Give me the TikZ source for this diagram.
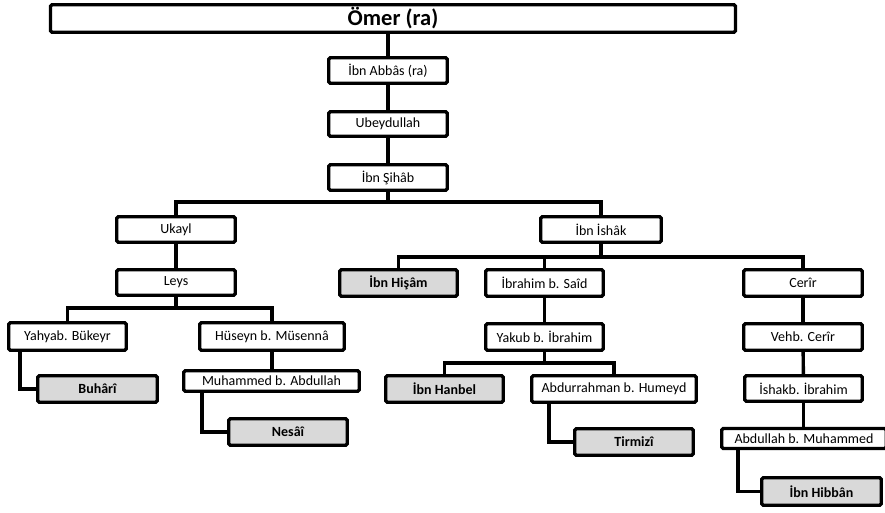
\documentclass[tikz,border=0pt]{standalone}
\usepackage{fontspec}
\setmainfont{Carlito}
\definecolor{leafgray}{HTML}{D9D9D9}
\begin{document}
\begin{tikzpicture}[x=1pt,y=-1pt,
  box/.style={draw, line width=3.4pt, rounded corners=1.5pt, inner sep=0pt, fill=white,
    font=\fontsize{14}{16}\selectfont},
  leaf/.style={box, fill=leafgray, font=\fontsize{14}{16}\selectfont\bfseries},
  link/.style={line width=3.4pt, line join=miter}]
\useasboundingbox (0,0) rectangle (885,512);

% nodes
\node[box, minimum width=685pt, minimum height=27.5pt, font=\fontsize{22.5}{24}\selectfont\bfseries] (omer) at (393,18.5) {Ömer (ra)};
\node[box, minimum width=118.5pt, minimum height=25.5pt] (abbas) at (388,70.5) {İbn Abbâs (ra)};
\node[box, minimum width=118.5pt, minimum height=24.5pt] (ubey) at (388,124) {Ubeydullah};
\node[box, minimum width=118.5pt, minimum height=25.5pt] (sihab) at (388,177.5) {İbn Şihâb};
\node[box, minimum width=118.5pt, minimum height=25.5pt] (ukayl) at (176,229.5) {Ukayl};
\node[box, minimum width=120.5pt, minimum height=25.5pt] (ishak) at (601,229.5) {İbn İshâk};
\node[box, minimum width=118.5pt, minimum height=25.5pt] (leys) at (176,282.5) {Leys};
\node[box, minimum width=117.5pt, minimum height=27.5pt] (yahya) at (67.5,336.5) {Yahyab. Bükeyr};
\node[box, minimum width=144.5pt, minimum height=27.5pt] (huseyn) at (272,336.5) {Hüseyn b. Müsennâ};
\node[leaf, minimum width=119.5pt, minimum height=26.5pt] (buhari) at (97.5,389) {Buhârî};
\node[box, minimum width=175.5pt, minimum height=20.5pt] (muhammed) at (271.5,381) {Muhammed b. Abdullah};
\node[leaf, minimum width=118.5pt, minimum height=26.5pt] (nesai) at (288,432) {Nesâî};
\node[leaf, minimum width=117.5pt, minimum height=26.5pt] (hisam) at (398.5,283) {İbn Hişâm};
\node[box, minimum width=117.5pt, minimum height=26.5pt] (ibrahim) at (544.5,283) {İbrahim b. Saîd};
\node[box, minimum width=118.5pt, minimum height=26.5pt] (cerir) at (803,283) {Cerîr};
\node[box, minimum width=117.5pt, minimum height=26.5pt] (yakub) at (544.5,337) {Yakub b. İbrahim};
\node[box, minimum width=118.5pt, minimum height=26.5pt] (vehb) at (803,337) {Vehb. Cerîr};
\node[leaf, minimum width=117.5pt, minimum height=26.5pt] (hanbel) at (444.5,389) {İbn Hanbel};
\node[box, minimum width=164.5pt, minimum height=26.5pt] (abdurr) at (614,389) {Abdurrahman b. Humeyd};
\node[leaf, minimum width=118.5pt, minimum height=26.5pt] (tirmizi) at (634,442) {Tirmizî};
\node[box, minimum width=117.5pt, minimum height=25.5pt] (ishakb) at (803.5,388.5) {İshakb. İbrahim};
\node[box, minimum width=164.5pt, minimum height=20pt] (abdullah) at (804,438.5) {Abdullah b. Muhammed};
\node[leaf, minimum width=119.5pt, minimum height=27.5pt] (hibban) at (821.5,491.5) {İbn Hibbân};

% junctions
\coordinate (j1) at (388,202);
\coordinate (j2) at (601,257);
\coordinate (j3) at (176,308);
\coordinate (j4) at (544.5,363);
\coordinate (e1) at (20,0);
\coordinate (e2) at (202,0);
\coordinate (e3) at (549,0);
\coordinate (e4) at (738,0);

% connectors
\draw[link] (omer.south -| abbas.north) -- (abbas.north);
\draw[link] (abbas) -- (ubey);
\draw[link] (ubey) -- (sihab);
\draw[link] (sihab) -- (j1);
\draw[link] (ukayl.north) |- (j1) -| (ishak.north);
\draw[link] (ukayl) -- (leys);
\draw[link] (leys) -- (j3);
\draw[link] (yahya.north) |- (j3) -| (huseyn.north);
\draw[link] (huseyn.south) -- (huseyn.south |- muhammed.north);
\draw[link] (yahya.south -| e1) |- (buhari.west);
\draw[link] (muhammed.south -| e2) |- (nesai.west);
\draw[link] (ishak) -- (j2);
\draw[link] (hisam.north) |- (j2) -| (cerir.north);
\draw[link] (ibrahim.north) -- (ibrahim.north |- j2);
\draw[link] (ibrahim) -- (yakub);
\draw[link] (cerir) -- (vehb);
\draw[link] (vehb) -- (ishakb);
\draw[link] (ishakb.south) -- (ishakb.south |- abdullah.north);
\draw[link] (yakub) -- (j4);
\draw[link] (hanbel.north) |- (j4) -| (abdurr.north);
\draw[link] (abdurr.south -| e3) |- (tirmizi.west);
\draw[link] (abdullah.south -| e4) |- (hibban.west);
\end{tikzpicture}
\end{document}
